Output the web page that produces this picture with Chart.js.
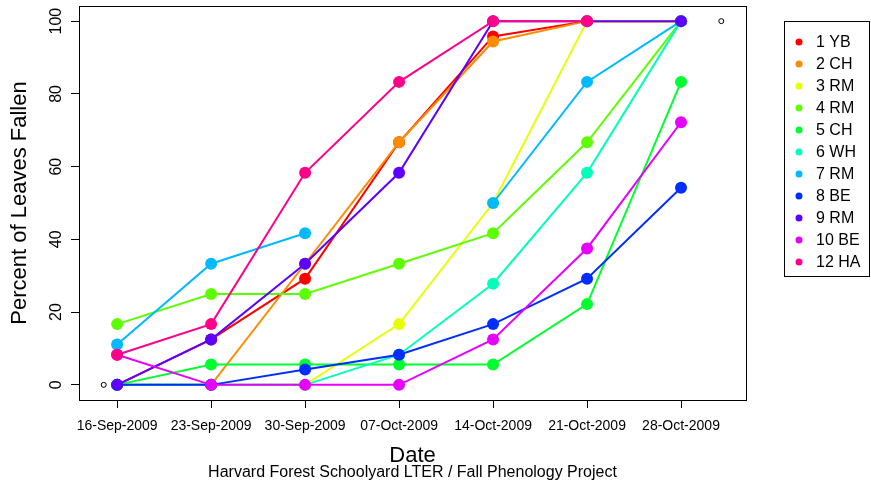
<!DOCTYPE html>
<html>
<head>
<meta charset="utf-8">
<title>Percent of Leaves Fallen</title>
<script src="https://cdn.jsdelivr.net/npm/chart.js@4.4.1/dist/chart.umd.min.js"></script>
<style>
    html, body { margin: 0; padding: 0; background: #ffffff; }
    canvas { display: block; }
</style>
</head>
<body>
<canvas id="leafChart" width="871" height="483"></canvas>
<script>
// sample dates (days after 16-Sep-2009) and their labels
const dateLabels = ["16-Sep-2009", "23-Sep-2009", "30-Sep-2009", "07-Oct-2009", "14-Oct-2009", "21-Oct-2009", "28-Oct-2009"];
const dayOffsets = [0, 7, 14, 21, 28, 35, 42];
const yTicks = [0, 20, 40, 60, 80, 100];

// the two empty circles R leaves from the first plot() call
const rangeDays = [-1, 45];
const rangeValues = [0, 100];

const treeNames = ["1 YB", "2 CH", "3 RM", "4 RM", "5 CH", "6 WH", "7 RM", "8 BE", "9 RM", "10 BE", "12 HA"];
const treeColors = ["#FF0000", "#FF8B00", "#E8FF00", "#5DFF00", "#00FF2E", "#00FFB9", "#00B9FF", "#002EFF", "#5D00FF", "#E800FF", "#FF008B"];

const yb1 = [0, 12.5, 29.2, 66.7, 95.8, 100, 100];
const ch2 = [0, 0, 33.3, 66.7, 94.4, 100, 100];
const rm3 = [0, 0, 0, 16.7, 50, 100, 100];
const rm4 = [16.7, 25, 25, 33.3, 41.7, 66.7, 100];
const ch5 = [0, 5.6, 5.6, 5.6, 5.6, 22.2, 83.3];
const wh6 = [0, 0, 0, 8.3, 27.8, 58.3, 100];
const rm7 = [11.1, 33.3, 41.7, null, 50, 83.3, 100];
const be8 = [0, 0, 4.2, 8.3, 16.7, 29.2, 54.2];
const rm9 = [0, 12.5, 33.3, 58.3, 100, 100, 100];
const be10 = [8.3, 0, 0, 0, 12.5, 37.5, 72.2];
const ha12 = [8.3, 16.7, 58.3, 83.3, 100, 100, null];

const seriesValues = [yb1, ch2, rm3, rm4, ch5, wh6, rm7, be8, rm9, be10, ha12];

const subtitleText = "Harvard Forest Schoolyard LTER / Fall Phenology Project";

const FONT = "'Liberation Sans', Arial, sans-serif";

const datasets = seriesValues.map((values, i) => ({
    label: treeNames[i],
    data: values.map((v, j) => ({ x: dayOffsets[j], y: v })),
    borderColor: treeColors[i],
    backgroundColor: treeColors[i],
    borderWidth: 2,
    pointRadius: 6,
    pointBorderWidth: 0,
    pointBackgroundColor: treeColors[i],
    tension: 0,
    // later trees are drawn on top, like in R
    order: seriesValues.length - i,
}));

datasets.push({
    label: "range",
    data: rangeDays.map((d, j) => ({ x: d, y: rangeValues[j] })),
    showLine: false,
    pointRadius: 2.5,
    pointBorderWidth: 1,
    pointBorderColor: "#000000",
    pointBackgroundColor: "#ffffff",
    order: 100,
});

// box around the plot, rotated y tick labels, subtitle and the legend
const rStylePlugin = {
    id: "rStyle",
    afterDraw(chart) {
        const ctx = chart.ctx;
        const area = chart.chartArea;
        const yScale = chart.scales.y;

        ctx.save();
        ctx.strokeStyle = "#000000";
        ctx.lineWidth = 1;
        ctx.strokeRect(Math.round(area.left) + 0.5, Math.round(area.top) + 0.5,
            Math.round(area.right - area.left), Math.round(area.bottom - area.top));

        ctx.fillStyle = "#000000";
        ctx.font = "16px " + FONT;
        ctx.textAlign = "center";
        ctx.textBaseline = "middle";
        yTicks.forEach((v) => {
            const y = yScale.getPixelForValue(v);
            ctx.save();
            ctx.translate(57, y);
            ctx.rotate(-Math.PI / 2);
            ctx.fillText(String(v), 0, 0);
            ctx.restore();
        });

        ctx.fillText(subtitleText, (area.left + area.right) / 2, 473);

        // legend
        const lx = 784, ly = 21, lw = 85, lh = 255;
        ctx.strokeRect(lx + 0.5, ly + 0.5, lw, lh);
        ctx.textAlign = "left";
        treeNames.forEach((name, i) => {
            const y = 42 + i * 22;
            ctx.beginPath();
            ctx.arc(799, y, 3.5, 0, Math.PI * 2);
            ctx.fillStyle = treeColors[i];
            ctx.fill();
            ctx.fillStyle = "#000000";
            ctx.fillText(name, 816, y + 1);
        });
        ctx.restore();
    },
};

new Chart(document.getElementById("leafChart"), {
    type: "line",
    data: { datasets: datasets },
    options: {
        responsive: false,
        animation: false,
        events: [],
        layout: { padding: { top: 5, right: 125, left: 0, bottom: 0 } },
        plugins: {
            legend: { display: false },
            tooltip: { enabled: false },
        },
        scales: {
            x: {
                type: "linear",
                min: -2.84,
                max: 46.84,
                afterBuildTicks: (scale) => {
                    scale.ticks = dayOffsets.map((d) => ({ value: d }));
                },
                afterFit: (scale) => { scale.height = 83; },
                ticks: {
                    color: "#000000",
                    font: { family: FONT, size: 14 },
                    padding: 10,
                    maxRotation: 0,
                    autoSkip: false,
                    callback: (value) => dateLabels[dayOffsets.indexOf(value)],
                },
                grid: { drawOnChartArea: false, drawTicks: true, tickLength: 8, color: "#000000" },
                border: { display: false },
                title: {
                    display: true,
                    text: "Date",
                    color: "#000000",
                    font: { family: FONT, size: 22, lineHeight: 1 },
                    padding: { top: 0, bottom: 16 },
                },
            },
            y: {
                min: -4.16,
                max: 104.16,
                afterBuildTicks: (scale) => {
                    scale.ticks = yTicks.map((v) => ({ value: v }));
                },
                afterFit: (scale) => { scale.width = 79; },
                ticks: { display: false },
                grid: { drawOnChartArea: false, drawTicks: true, tickLength: 8, color: "#000000" },
                border: { display: false },
                title: {
                    display: true,
                    text: "Percent of Leaves Fallen",
                    color: "#000000",
                    font: { family: FONT, size: 22, lineHeight: 1.2 },
                    padding: { top: 7, bottom: 0 },
                },
            },
        },
    },
    plugins: [rStylePlugin],
});
</script>
</body>
</html>
